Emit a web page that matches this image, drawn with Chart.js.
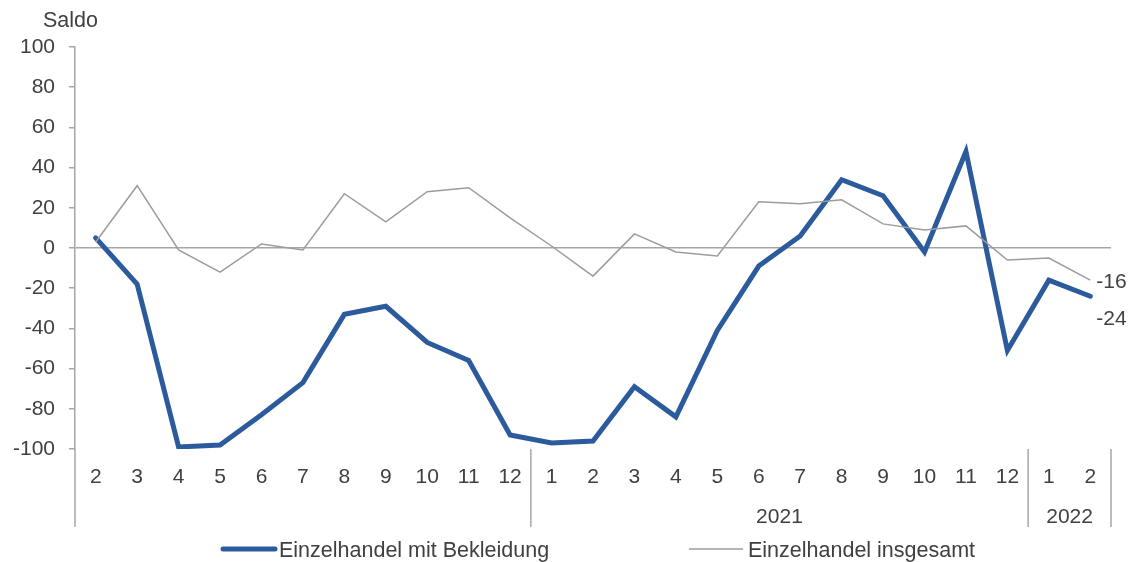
<!DOCTYPE html>
<html><head><meta charset="utf-8">
<script src="https://cdn.jsdelivr.net/npm/chart.js@4.4.1/dist/chart.umd.min.js"></script>
<style>html,body{margin:0;padding:0;background:#fff;}#wrap{width:1134px;height:562px;}</style>
</head><body><div id="wrap"><canvas id="c" width="1134" height="562"></canvas></div>
<script>
const months = ['2','3','4','5','6','7','8','9','10','11','12','1','2','3','4','5','6','7','8','9','10','11','12','1','2'];
const yearLabels = ['', '2021', '2022'];
const yearStarts = [0, 11, 23];
const bekleidung = [5,-18,-99,-98,-83,-67,-33,-29,-47,-56,-93,-97,-96,-69,-84,-41,-9,6,34,26,-2,48,-51,-16,-24];
const insgesamt = [3,31,-1,-12,2,-1,27,13,28,30,15,1,-14,7,-2,-4,23,22,24,12,9,11,-6,-5,-16];
const seriesNames = ['Einzelhandel mit Bekleidung', 'Einzelhandel insgesamt'];
const yMin = -100, yMax = 100, yStep = 20;
const axisTitle = 'Saldo';

const TXT = '#404040', AX = '#a6a6a6', BLUE = '#2b5b9c', GRAY = '#9c9c9c';
const FONT = 'Liberation Sans, Arial, sans-serif';

const extras = {
  id: 'extras',
  afterDraw(chart) {
    const ctx = chart.ctx, x = chart.scales.x, y = chart.scales.y, ca = chart.chartArea;
    ctx.save();
    ctx.strokeStyle = AX; ctx.lineWidth = 1.5;
    const bottomY = 527;
    const bounds = [ca.left];
    for (let i = 1; i < yearStarts.length; i++) {
      bounds.push((x.getPixelForValue(yearStarts[i] - 1) + x.getPixelForValue(yearStarts[i])) / 2);
    }
    bounds.push(ca.right);
    bounds.forEach(b => { ctx.beginPath(); ctx.moveTo(b, ca.bottom); ctx.lineTo(b, bottomY); ctx.stroke(); });
    ctx.fillStyle = TXT; ctx.font = '21px ' + FONT; ctx.textBaseline = 'middle'; ctx.textAlign = 'center';
    for (let i = 0; i < yearLabels.length; i++) {
      if (!yearLabels[i]) continue;
      ctx.fillText(yearLabels[i], (bounds[i] + bounds[i + 1]) / 2, 517);
    }
    // value labels at last point
    const n = months.length - 1;
    ctx.textAlign = 'left';
    ctx.fillText(String(insgesamt[n]), x.getPixelForValue(n) + 6, y.getPixelForValue(insgesamt[n]) + 2);
    ctx.fillText(String(bekleidung[n]), x.getPixelForValue(n) + 6, y.getPixelForValue(bekleidung[n]) + 23);
    // axis title
    ctx.font = '21.5px ' + FONT;
    ctx.fillText(axisTitle, 43, 21);
    // legend
    const leg = [[223, 275, 279, BLUE, 5, 'round'], [689, 743, 748, GRAY, 1.5, 'butt']];
    leg.forEach((l, i) => {
      ctx.strokeStyle = l[3]; ctx.lineWidth = l[4]; ctx.lineCap = l[5];
      ctx.beginPath(); ctx.moveTo(l[0], 549); ctx.lineTo(l[1], 549); ctx.stroke();
      ctx.fillText(seriesNames[i], l[2], 551);
    });
    ctx.restore();
  }
};

new Chart(document.getElementById('c'), {
  type: 'line',
  data: {
    labels: months,
    datasets: [
      { label: seriesNames[0], data: bekleidung, borderColor: BLUE, borderWidth: 5, pointRadius: 0, tension: 0, order: 1, borderCapStyle: 'round' },
      { label: seriesNames[1], data: insgesamt, borderColor: GRAY, borderWidth: 1.5, pointRadius: 0, tension: 0, order: 0 }
    ]
  },
  options: {
    responsive: false, animation: false, devicePixelRatio: 1,
    layout: { padding: { top: 47, right: 23, bottom: 0, left: 0 } },
    plugins: { legend: { display: false }, tooltip: { enabled: false } },
    scales: {
      x: {
        type: 'category', offset: true,
        grid: { display: false, drawTicks: false },
        border: { display: false },
        ticks: { color: TXT, font: { family: FONT, size: 21 }, padding: 16, maxRotation: 0, autoSkip: false },
        afterFit(s) { s.height = 113; }
      },
      y: {
        min: yMin, max: yMax,
        ticks: { stepSize: yStep, color: TXT, font: { family: FONT, size: 21 }, padding: 14 },
        grid: { color: c => (c.tick && c.tick.value === 0) ? AX : 'rgba(0,0,0,0)', tickColor: AX, lineWidth: 1.5, tickLength: 6 },
        border: { display: true, color: AX, width: 1.5 },
        afterFit(s) { s.width = 75; }
      }
    }
  },
  plugins: [extras]
});
</script></body></html>
